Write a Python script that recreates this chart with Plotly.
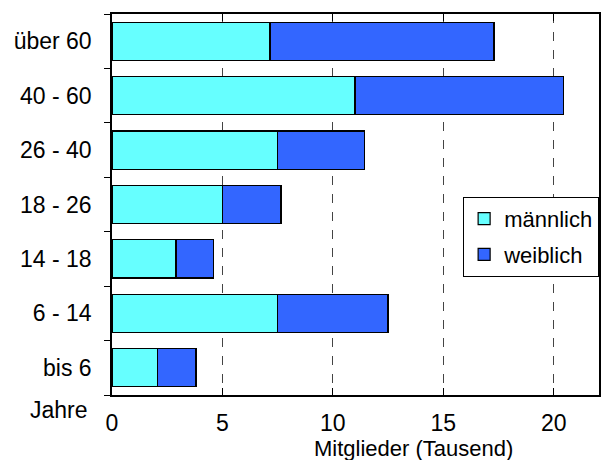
import plotly.graph_objects as go

# Altersgruppen (bottom to top) and members in thousands
age_groups = ["bis 6", "6 - 14", "14 - 18", "18 - 26", "26 - 40", "40 - 60", "über 60"]
male = [2.05, 7.5, 2.9, 5.0, 7.5, 11.0, 7.15]
female = [1.75, 5.0, 1.7, 2.65, 3.95, 9.45, 10.15]
x_ticks = [0, 5, 10, 15, 20]

FONT = "Liberation Sans, Arial, sans-serif"

fig = go.Figure()
fig.add_trace(go.Bar(
    y=age_groups, x=male, name="männlich", orientation="h",
    marker=dict(color="#66FFFF", line=dict(color="black", width=1.2)),
    width=0.7, legendgroup="m",
))
fig.add_trace(go.Bar(
    y=age_groups, x=female, name="weiblich", orientation="h",
    marker=dict(color="#3366FF", line=dict(color="black", width=1.2)),
    width=0.7, legendgroup="w",
))

fig.update_layout(
    width=608, height=460,
    barmode="stack",
    margin=dict(l=112, r=9, t=14, b=65),
    paper_bgcolor="white", plot_bgcolor="white",
    font=dict(family=FONT, size=24, color="black"),
    showlegend=True,
    legend=dict(
        x=0.721, y=0.52, xanchor="left", yanchor="top",
        bordercolor="black", borderwidth=1, bgcolor="white",
        traceorder="grouped", tracegroupgap=4,
        font=dict(size=22),
    ),
    annotations=[
        dict(text="Mitglieder (Tausend)", xref="paper", yref="paper",
             x=0.62, y=-0.14, xanchor="center", yanchor="middle",
             showarrow=False, font=dict(size=22)),
        dict(text="Jahre", xref="paper", yref="paper",
             x=-0.045, y=-0.039, xanchor="right", yanchor="middle",
             showarrow=False, font=dict(size=23)),
    ],
)

fig.update_xaxes(
    range=[0, 22.05], tickvals=x_ticks, automargin=False,
    ticks="inside", ticklen=7, tickcolor="black",
    showline=True, linecolor="black", linewidth=1.5, mirror="allticks",
    showgrid=True, gridcolor="#444", griddash="dash", gridwidth=1,
    zeroline=False, ticklabelstandoff=7,
    tickfont=dict(size=23),
)
fig.update_yaxes(
    categoryorder="array", categoryarray=age_groups, automargin=False,
    tickson="boundaries", ticks="outside", ticklen=6, tickcolor="black",
    showline=True, linecolor="black", linewidth=1.5, mirror=True,
    showgrid=False, ticklabelstandoff=14,
    tickfont=dict(size=23),
)

fig.write_html("out.html", config={"displayModeBar": False},
               post_script="document.body.style.margin='0';")
